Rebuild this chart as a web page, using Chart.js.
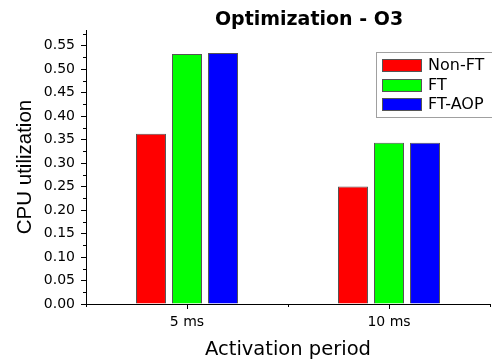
<!DOCTYPE html>
<html>
<head>
<meta charset="utf-8">
<script src="https://cdn.jsdelivr.net/npm/chart.js@4"></script>
<style>
  html, body { margin: 0; padding: 0; background: #fff; }
</style>
</head>
<body>
<canvas id="cpuChart" width="492" height="360"></canvas>
<script>
// --- DATA ---
const periods = ['5 ms', '10 ms'];
const seriesNames = ['Non-FT', 'FT', 'FT-AOP'];
const nonFtUtil = [0.362, 0.250];
const ftUtil = [0.532, 0.343];
const ftAopUtil = [0.534, 0.343];

const TITLE_TEXT = 'Optimization - O3';
const Y_MAX = 0.583;

const COLORS = {
    nonFt: '#ff0000',
    ft: '#00ff00',
    ftAop: '#0000ff',
    edge: '#555555'
};

// --- PLUGINS: minor ticks, title, boxed legend ---
const minorTicks = {
    id: 'minorTicks',
    afterDraw(chart) {
        const { ctx } = chart;
        const x = chart.scales.x, y = chart.scales.y;
        ctx.save();
        ctx.strokeStyle = '#000';
        ctx.lineWidth = 1;
        ctx.beginPath();
        for (let v = 0.025; v < y.max; v += 0.05) {
            const py = Math.round(y.getPixelForValue(v)) + 0.5;
            ctx.moveTo(y.right - 3, py);
            ctx.lineTo(y.right, py);
        }
        for (let i = -0.5; i <= periods.length - 0.5; i += 1) {
            const px = Math.round(x.getPixelForValue(i)) + 0.5;
            ctx.moveTo(px, x.top);
            ctx.lineTo(px, x.top + 3);
        }
        ctx.stroke();
        ctx.restore();
    }
};

const chartTitle = {
    id: 'chartTitle',
    afterDraw(chart) {
        const { ctx, chartArea } = chart;
        ctx.save();
        ctx.font = 'bold 19px "DejaVu Sans"';
        ctx.fillStyle = '#000';
        ctx.textAlign = 'center';
        ctx.textBaseline = 'alphabetic';
        ctx.fillText(TITLE_TEXT, chartArea.left + (chartArea.right - chartArea.left) * 0.552, 25);
        ctx.restore();
    }
};

const boxLegend = {
    id: 'boxLegend',
    afterDraw(chart) {
        const { ctx } = chart;
        const x0 = 376, y0 = 52;
        ctx.save();
        ctx.strokeStyle = '#a0a0a0';
        ctx.lineWidth = 1;
        ctx.strokeRect(x0 + 0.5, y0 + 0.5, 130, 65);
        ctx.font = '16px "DejaVu Sans"';
        ctx.textBaseline = 'middle';
        chart.data.datasets.forEach((ds, i) => {
            const top = Math.round(y0 + 7 + i * 19.5);
            ctx.fillStyle = ds.backgroundColor;
            ctx.fillRect(x0 + 6, top, 40, 13);
            ctx.strokeStyle = COLORS.edge;
            ctx.strokeRect(x0 + 6.5, top + 0.5, 39, 12);
            ctx.fillStyle = '#000';
            ctx.fillText(ds.label, x0 + 52, top + 7);
        });
        ctx.restore();
    }
};

// --- CHART ---
const ctx = document.getElementById('cpuChart').getContext('2d');
new Chart(ctx, {
    type: 'bar',
    data: {
        labels: periods,
        datasets: [
            { label: seriesNames[0], data: nonFtUtil, backgroundColor: COLORS.nonFt },
            { label: seriesNames[1], data: ftUtil, backgroundColor: COLORS.ft },
            { label: seriesNames[2], data: ftAopUtil, backgroundColor: COLORS.ftAop }
        ].map(ds => Object.assign(ds, {
            borderColor: COLORS.edge,
            borderWidth: 1,
            categoryPercentage: 0.535,
            barPercentage: 0.833
        }))
    },
    options: {
        responsive: false,
        animation: false,
        layout: { padding: { top: 30, right: 2, left: 0, bottom: 0 } },
        plugins: {
            legend: { display: false },
            title: { display: false },
            tooltip: { enabled: false }
        },
        scales: {
            x: {
                grid: { drawOnChartArea: false, offset: false, tickLength: 5, tickColor: '#000' },
                border: { color: '#000', width: 1 },
                ticks: { color: '#000', font: { family: 'DejaVu Sans', size: 14 }, padding: 5 },
                title: {
                    display: true,
                    text: 'Activation period',
                    color: '#000',
                    font: { family: 'DejaVu Sans', size: 19.5, lineHeight: 1 },
                    padding: { top: 0, bottom: 0 }
                },
                afterFit(scale) { scale.height = 56; }
            },
            y: {
                min: 0,
                max: Y_MAX,
                grid: { drawOnChartArea: false, tickLength: 5, tickColor: '#000' },
                border: { color: '#000', width: 1 },
                ticks: {
                    stepSize: 0.05,
                    includeBounds: false,
                    color: '#000',
                    padding: 6,
                    font: { family: 'DejaVu Sans', size: 14 },
                    callback: v => v.toFixed(2)
                },
                title: {
                    display: true,
                    text: 'CPU utilization',
                    color: '#000',
                    font: { family: 'Liberation Sans', size: 20.5, lineHeight: 1 },
                    padding: { top: 15, bottom: 0 }
                },
                afterFit(scale) { scale.width = 86; }
            }
        }
    },
    plugins: [minorTicks, chartTitle, boxLegend]
});
</script>
</body>
</html>
